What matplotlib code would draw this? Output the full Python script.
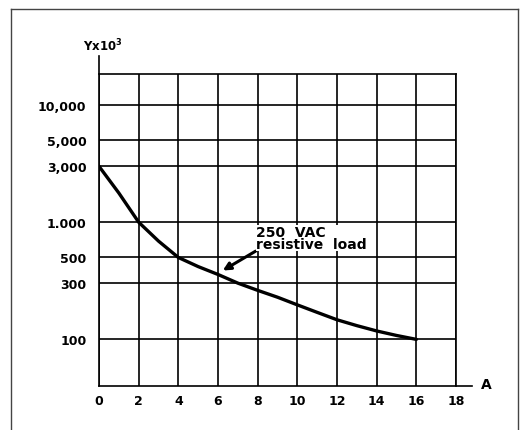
import numpy as np
import matplotlib.pyplot as plt
from matplotlib.lines import Line2D

plt.rcParams['font.family'] = ['DejaVu Sans']
plt.rcParams['font.weight'] = 'bold'

# curve (A vs Y x 10^3)
amps = [0, 1, 2, 3, 4, 5, 6, 7, 8, 9, 10, 11, 12, 13, 14, 15, 16]
life = [3000, 1775, 1000, 690, 500, 418, 358, 302, 262, 229, 197, 170, 147, 131, 118, 108, 100]

xticks = [0, 2, 4, 6, 8, 10, 12, 14, 16, 18]
yticks = [100, 300, 500, 1000, 3000, 5000, 10000]
ylabels = ['100', '300', '500', '1.000', '3,000', '5,000', '10,000']

fig = plt.figure(figsize=(5.26, 4.31), dpi=100)
ax = fig.add_axes([99/526, 44/431, 357/526, 312/431])

ax.set_yscale('log')
ax.set_xlim(0, 18)
ax.set_ylim(40, 18400)

for xv in xticks:
    ax.axvline(xv, color='black', lw=1.2)
for yv in yticks:
    ax.axhline(yv, color='black', lw=1.2)

ax.plot(amps, life, color='black', lw=2.4, solid_capstyle='round', solid_joinstyle='round')

ax.set_xticks(xticks)
ax.set_xticklabels([str(v) for v in xticks], fontsize=9, fontweight='bold')
ax.set_yticks(yticks)
ax.set_yticklabels(ylabels, fontsize=9, fontweight='bold')
ax.minorticks_off()
ax.tick_params(length=0, pad=6)
ax.tick_params(axis='y', pad=9)

for s in ['left', 'bottom']:
    ax.spines[s].set_visible(False)
for s in ['top', 'right']:
    ax.spines[s].set_linewidth(1.2)

# extended axis lines
ax.plot([0, 0], [0, 1.058], transform=ax.transAxes, color='black', lw=1.2, clip_on=False)
ax.plot([0, 1.045], [0, 0], transform=ax.transAxes, color='black', lw=1.2, clip_on=False)

ax.text(0.012, 1.066, 'Yx10$^3$', transform=ax.transAxes, fontsize=8.5, fontweight='bold', ha='center', va='bottom')
ax.text(1.085, 0.005, 'A', transform=ax.transAxes, fontsize=10, fontweight='bold', ha='center', va='center')

ax.annotate('250  VAC\nresistive  load', xy=(6.24, 387), xytext=(7.92, 945),
            fontsize=10, fontweight='bold', ha='left', va='top', linespacing=0.8,
            bbox=dict(facecolor='white', edgecolor='none', pad=0.3),
            arrowprops=dict(arrowstyle='-|>', color='black', lw=2.2, shrinkA=0, shrinkB=0,
                            mutation_scale=11, relpos=(0.0, 0.0)))

# picture frame
for xs, ys in [([11, 11], [0, 421]), ([11, 518], [421, 421]), ([518, 518], [421, 0])]:
    fig.add_artist(Line2D(np.array(xs)/526, np.array(ys)/431, color='#444444', lw=1))

fig.savefig('out.png', dpi=100)
